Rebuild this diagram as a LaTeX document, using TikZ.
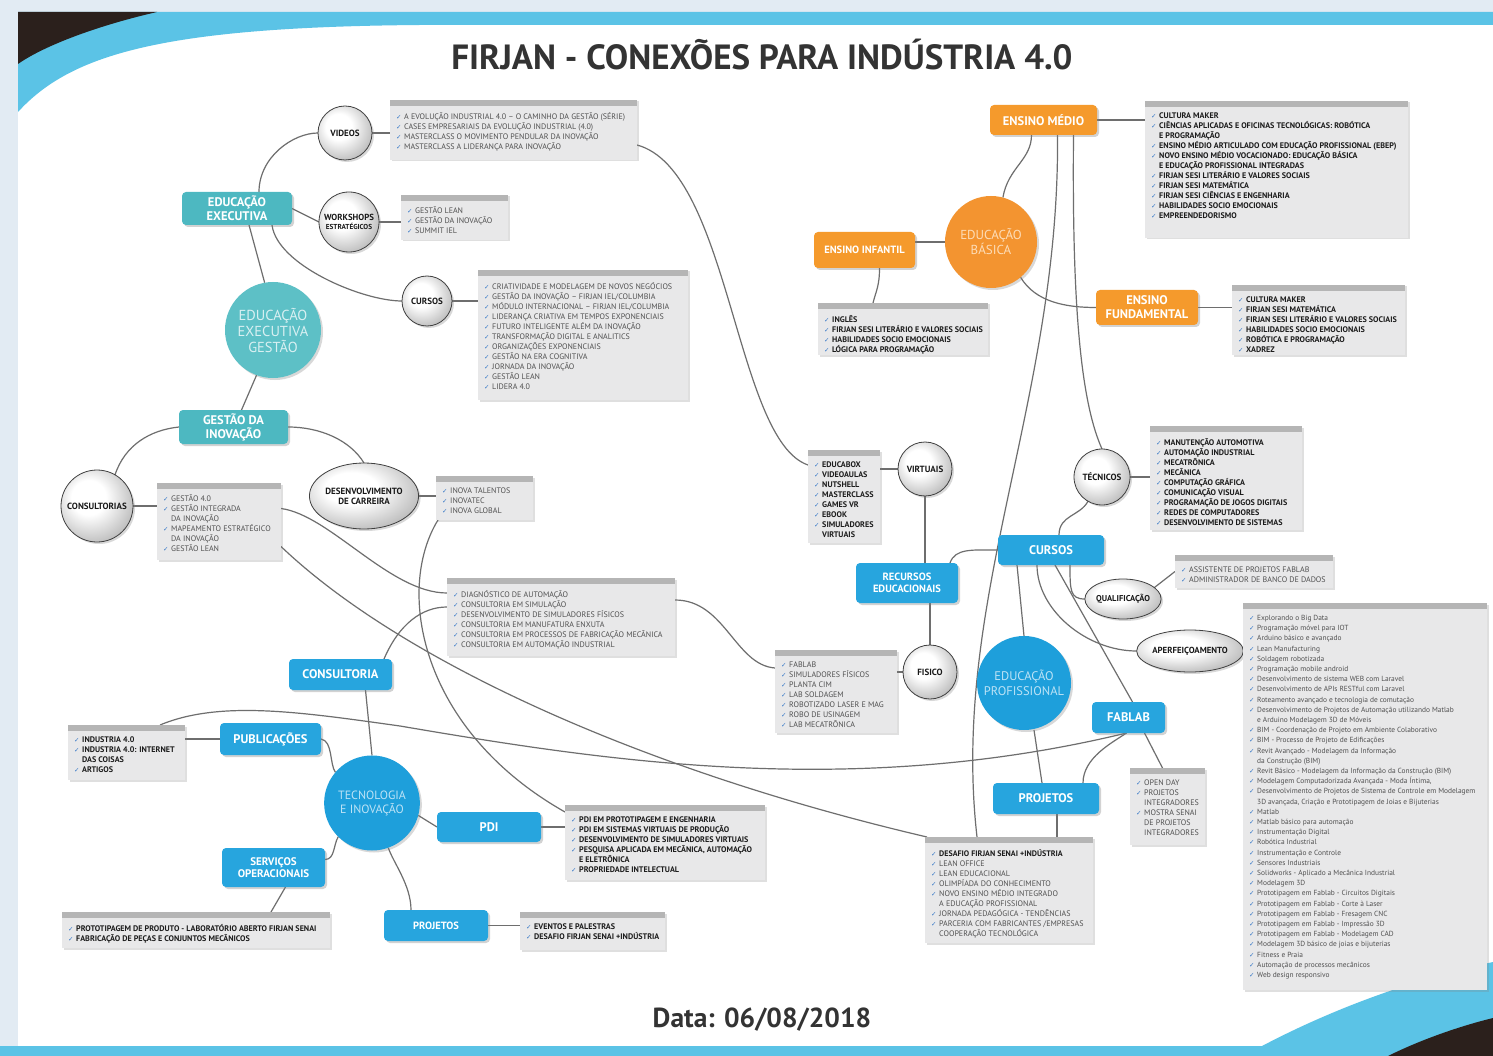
\documentclass[tikz,border=0pt]{standalone}
\usepackage{fontspec}
\setmainfont{PT Sans}
\newfontfamily\symf{DejaVu Sans}
\usetikzlibrary{shapes.geometric,shadows,calc}
\pgfdeclarelayer{bgzero}
\pgfdeclarelayer{lines}
\pgfsetlayers{bgzero,lines,main}
\definecolor{tealbox}{HTML}{4DB8C1}
\definecolor{tealcirc}{HTML}{5DC0C6}
\definecolor{tealtxt}{HTML}{D9F0F2}
\definecolor{orbox}{HTML}{F59A2C}
\definecolor{orcirc}{HTML}{F39430}
\definecolor{ortxt}{HTML}{FDDDB8}
\definecolor{blbox}{HTML}{27A5DE}
\definecolor{blcirc}{HTML}{1E9FDB}
\definecolor{bltxt}{HTML}{BDE3F6}
\definecolor{linec}{HTML}{6E6E6E}
\definecolor{listfill}{HTML}{E8E8E9}
\definecolor{barc}{HTML}{B5B5B5}
\definecolor{chk}{HTML}{3B7BC8}
\definecolor{txtL}{HTML}{505050}
\definecolor{txtB}{HTML}{1C1C1C}
\definecolor{titlec}{HTML}{333333}
\definecolor{swoosh}{HTML}{5BC3E6}
\definecolor{darkbr}{HTML}{2B201C}
\definecolor{marginc}{HTML}{E2EBF3}
\pgfdeclareradialshading{sphereshade}{\pgfpoint{-7bp}{7bp}}{color(0bp)=(white); color(12bp)=(white); color(30bp)=(black!25); color(48bp)=(black!62); color(70bp)=(black!62)}
\newcommand\ck{\makebox[8pt][l]{\symf\fontsize{6.5}{5}\selectfont\color{chk}✓}}
\newcommand\ct{\hspace*{8pt}}
\newcommand\lbox[7]{%
 \node[listbox, minimum width={#5-#3}, minimum height={#6-#4}] (#1) at ({(#3+#5)/2},{(#4+#6)/2}) {};
 \fill[barc] (#1.north west) rectangle ([yshift=-6pt]#1.north east);
 \node[#2, anchor=north west] (#1t) at ([xshift=6pt,yshift=-12pt]#1.north west) {#7};}
\newcommand\cbox[7]{%
 \node[#2, minimum width={#5-#3}, minimum height={#6-#4}] (#1) at ({(#3+#5)/2},{(#4+#6)/2}) {#7};}
\tikzset{
 conn/.style={draw=linec, line width=1.2pt},
 listbox/.style={rectangle, fill=listfill, inner sep=0pt, outer sep=0pt, drop shadow={shadow xshift=1.5pt, shadow yshift=-1.5pt, opacity=0.25}},
 listL/.style={inner sep=0pt, align=left, text=txtL, font=\fontsize{8}{10}\selectfont},
 listB/.style={inner sep=0pt, align=left, text=txtB, font=\bfseries\fontsize{8.1}{10}\selectfont},
 cb/.style={rectangle, rounded corners=4pt, inner sep=0pt, outer sep=0pt, align=center, text=white, font=\bfseries\fontsize{12.5}{14}\selectfont, drop shadow={shadow xshift=2pt, shadow yshift=-2pt, opacity=0.35}},
 tealb/.style={cb, fill=tealbox},
 orb/.style={cb, fill=orbox},
 blb/.style={cb, fill=blbox},
 sph/.style={circle, inner sep=0pt, outer sep=0pt, draw=black!75, line width=0.8pt, shading=sphereshade, align=center, text=black!90, font=\bfseries\fontsize{9}{10}\selectfont, drop shadow={shadow xshift=2pt, shadow yshift=-2pt, opacity=0.3}},
 sphe/.style={sph, ellipse},
 big/.style={circle, inner sep=0pt, outer sep=0pt, align=center, font=\fontsize{14.5}{16}\selectfont, drop shadow={shadow xshift=2pt, shadow yshift=-2pt, opacity=0.3}},
}
\begin{document}
\begin{tikzpicture}[x=1pt,y=-1pt]
\useasboundingbox (0,0) rectangle (1493,1056);
\begin{pgfonlayer}{bgzero}
\fill[marginc] (0,0) rectangle (1493,1056);
\fill[white] (18,12) rectangle (1493,1046);
\fill[swoosh] (18,12) -- (1493,12) -- (1493,25) -- (420,25) .. controls (160,27) and (70,55) .. (18,112) -- cycle;
\fill[darkbr] (18,12) -- (157,12) .. controls (100,25) and (45,45) .. (18,64) -- cycle;
\fill[swoosh] (1262,1046) .. controls (1340,1005) and (1420,978) .. (1493,962) -- (1493,1046) -- cycle;
\fill[swoosh] (0,1046) rectangle (1493,1056);
\fill[darkbr] (1388,1056) .. controls (1420,1040) and (1460,1026) .. (1493,1018) -- (1493,1056) -- cycle;
\end{pgfonlayer}

\node[font=\bfseries\fontsize{35}{38}\selectfont, text=titlec] (title) at (762,55) {FIRJAN - CONEXÕES PARA INDÚSTRIA 4.0};
\node[font=\bfseries\fontsize{27.5}{30}\selectfont, text=titlec] (date) at (762,1020) {Data: 06/08/2018};

% ---------- Educacao executiva ----------
\node[big, fill=tealcirc, text=tealtxt, minimum size=96] (egC) at (273,330) {EDUCAÇÃO\\EXECUTIVA\\GESTÃO};
\cbox{eeB}{tealb}{182}{192}{292}{225}{EDUCAÇÃO\\EXECUTIVA}
\cbox{giB}{tealb}{179}{410}{288}{444}{GESTÃO DA\\INOVAÇÃO}
\node[sph, minimum size=54] (vidC) at (345,133) {VIDEOS};
\node[sph, minimum size=60, font=\bfseries\fontsize{8.8}{9}\selectfont] (wsC) at (349,222) {WORKSHOPS\\{\fontsize{7.2}{8}\selectfont ESTRATÉGICOS}};
\node[sph, minimum size=50] (cuC) at (427,301) {CURSOS};
\node[sph, minimum size=72] (csC) at (97,506) {CONSULTORIAS};
\node[sphe, minimum width=92, minimum height=66] (dcC) at (364,496) {DESENVOLVIMENTO\\DE CARREIRA};

\lbox{vidL}{listL}{390}{100}{637}{160}{\ck A EVOLUÇÃO INDUSTRIAL 4.0 – O CAMINHO DA GESTÃO (SÉRIE)\\\ck CASES EMPRESARIAIS DA EVOLUÇÃO INDUSTRIAL (4.0)\\\ck MASTERCLASS O MOVIMENTO PENDULAR DA INOVAÇÃO\\\ck MASTERCLASS A LIDERANÇA PARA INOVAÇÃO}
\lbox{wsL}{listL}{401}{195}{508}{240}{\ck GESTÃO LEAN\\\ck GESTÃO DA INOVAÇÃO\\\ck SUMMIT IEL}
\lbox{curL}{listL}{478}{270}{688}{400}{\ck CRIATIVIDADE E MODELAGEM DE NOVOS NEGÓCIOS\\\ck GESTÃO DA INOVAÇÃO – FIRJAN IEL/COLUMBIA\\\ck MÓDULO INTERNACIONAL – FIRJAN IEL/COLUMBIA\\\ck LIDERANÇA CRIATIVA EM TEMPOS EXPONENCIAIS\\\ck FUTURO INTELIGENTE ALÉM DA INOVAÇÃO\\\ck TRANSFORMAÇÃO DIGITAL E ANALITICS\\\ck ORGANIZAÇÕES EXPONENCIAIS\\\ck GESTÃO NA ERA COGNITIVA\\\ck JORNADA DA INOVAÇÃO\\\ck GESTÃO LEAN\\\ck LIDERA 4.0}
\lbox{consL}{listL}{157}{483}{281}{560}{\ck GESTÃO 4.0\\\ck GESTÃO INTEGRADA\\\ct DA INOVAÇÃO\\\ck MAPEAMENTO ESTRATÉGICO\\\ct DA INOVAÇÃO\\\ck GESTÃO LEAN}
\lbox{dcL}{listL}{436}{476}{533}{520}{\ck INOVA TALENTOS\\\ck INOVATEC\\\ck INOVA GLOBAL}

% ---------- Educacao basica ----------
\node[big, fill=orcirc, text=ortxt, minimum size=92, font=\fontsize{13}{15}\selectfont] (ebC) at (991,242) {EDUCAÇÃO\\BÁSICA};
\cbox{emB}{orb}{990}{105}{1097}{135}{ENSINO MÉDIO}
\cbox{eiB}{orb, font=\bfseries\fontsize{10.5}{12}\selectfont}{814}{232}{915}{268}{ENSINO INFANTIL}
\cbox{efB}{orb}{1096}{290}{1198}{325}{ENSINO\\FUNDAMENTAL}
\lbox{emL}{listB}{1145}{101}{1408}{238}{\ck CULTURA MAKER\\\ck CIÊNCIAS APLICADAS E OFICINAS TECNOLÓGICAS: ROBÓTICA\\\ct E PROGRAMAÇÃO\\\ck ENSINO MÉDIO ARTICULADO COM EDUCAÇÃO PROFISSIONAL (EBEP)\\\ck NOVO ENSINO MÉDIO VOCACIONADO: EDUCAÇÃO BÁSICA\\\ct E EDUCAÇÃO PROFISSIONAL INTEGRADAS\\\ck FIRJAN SESI LITERÁRIO E VALORES SOCIAIS\\\ck FIRJAN SESI MATEMÁTICA\\\ck FIRJAN SESI CIÊNCIAS E ENGENHARIA\\\ck HABILIDADES SOCIO EMOCIONAIS\\\ck EMPREENDEDORISMO}
\lbox{eiL}{listB}{818}{303}{988}{355}{\ck INGLÊS\\\ck FIRJAN SESI LITERÁRIO E VALORES SOCIAIS\\\ck HABILIDADES SOCIO EMOCIONAIS\\\ck LÓGICA PARA PROGRAMAÇÃO}
\lbox{efL}{listB}{1232}{285}{1405}{355}{\ck CULTURA MAKER\\\ck FIRJAN SESI MATEMÁTICA\\\ck FIRJAN SESI LITERÁRIO E VALORES SOCIAIS\\\ck HABILIDADES SOCIO EMOCIONAIS\\\ck ROBÓTICA E PROGRAMAÇÃO\\\ck XADREZ}

% ---------- Educacao profissional ----------
\node[big, fill=blcirc, text=bltxt, minimum size=94, font=\fontsize{12.5}{14.5}\selectfont] (epC) at (1024,683) {EDUCAÇÃO\\PROFISSIONAL};
\cbox{cuB}{blb}{998}{535}{1104}{565}{CURSOS}
\cbox{reB}{blb, font=\bfseries\fontsize{10.5}{12}\selectfont}{856}{563}{958}{603}{RECURSOS\\EDUCACIONAIS}
\cbox{fbB}{blb}{1092}{702}{1165}{733}{FABLAB}
\cbox{pjB}{blb}{993}{783}{1099}{814}{PROJETOS}
\node[sph, minimum size=54] (viC) at (925,469) {VIRTUAIS};
\node[sph, minimum size=54] (fiC) at (930,672) {FISICO};
\node[sph, minimum size=56] (tcC) at (1102,477) {TÉCNICOS};
\node[sphe, minimum width=70, minimum height=40, font=\bfseries\fontsize{8.5}{9}\selectfont] (quC) at (1123,599) {QUALIFICAÇÃO};
\node[sphe, minimum width=92, minimum height=42, font=\bfseries\fontsize{8.8}{9}\selectfont] (apC) at (1190,651) {APERFEIÇOAMENTO};
\lbox{viL}{listB}{808}{450}{880}{543}{\ck EDUCABOX\\\ck VIDEOAULAS\\\ck NUTSHELL\\\ck MASTERCLASS\\\ck GAMES VR\\\ck EBOOK\\\ck SIMULADORES\\\ct VIRTUAIS}
\lbox{fiL}{listL}{775}{650}{897}{733}{\ck FABLAB\\\ck SIMULADORES FÍSICOS\\\ck PLANTA CIM\\\ck LAB SOLDAGEM\\\ck ROBOTIZADO LASER E MAG\\\ck ROBO DE USINAGEM\\\ck LAB MECATRÔNICA}
\lbox{tcL}{listB}{1150}{426}{1302}{530}{\ck MANUTENÇÃO AUTOMOTIVA\\\ck AUTOMAÇÃO INDUSTRIAL\\\ck MECATRÔNICA\\\ck MECÂNICA\\\ck COMPUTAÇÃO GRÁFICA\\\ck COMUNICAÇÃO VISUAL\\\ck PROGRAMAÇÃO DE JOGOS DIGITAIS\\\ck REDES DE COMPUTADORES\\\ck DESENVOLVIMENTO DE SISTEMAS}
\lbox{quL}{listL}{1175}{555}{1333}{588}{\ck ASSISTENTE DE PROJETOS FABLAB\\\ck ADMINISTRADOR DE BANCO DE DADOS}
\lbox{apL}{listL, font=\fontsize{7.4}{10.2}\selectfont}{1243}{603}{1487}{990}{\ck Explorando o Big Data\\\ck Programação móvel para IOT\\\ck Arduino básico e avançado\\\ck Lean Manufacturing\\\ck Soldagem robotizada\\\ck Programação mobile android\\\ck Desenvolvimento de sistema WEB com Laravel\\\ck Desenvolvimento de APIs RESTful com Laravel\\\ck Roteamento avançado e tecnologia de comutação\\\ck Desenvolvimento de Projetos de Automação utilizando Matlab\\\ct e Arduino Modelagem 3D de Móveis\\\ck BIM - Coordenação de Projeto em Ambiente Colaborativo\\\ck BIM - Processo de Projeto de Edificações\\\ck Revit Avançado - Modelagem da Informação\\\ct da Construção (BIM)\\\ck Revit Básico - Modelagem da Informação da Construção (BIM)\\\ck Modelagem Computadorizada Avançada - Moda Íntima,\\\ck Desenvolvimento de Projetos de Sistema de Controle em Modelagem\\\ct 3D avançada, Criação e Prototipagem de Joias e Bijuterias\\\ck Matlab\\\ck Matlab básico para automação\\\ck Instrumentação Digital\\\ck Robótica Industrial\\\ck Instrumentação e Controle\\\ck Sensores Industriais\\\ck Solidworks - Aplicado a Mecânica Industrial\\\ck Modelagem 3D\\\ck Prototipagem em Fablab - Circuitos Digitais\\\ck Prototipagem em Fablab - Corte à Laser\\\ck Prototipagem em Fablab - Fresagem CNC\\\ck Prototipagem em Fablab - Impressão 3D\\\ck Prototipagem em Fablab - Modelagem CAD\\\ck Modelagem 3D básico de joias e bijuterias\\\ck Fitness e Praia\\\ck Automação de processos mecânicos\\\ck Web design responsivo}
\lbox{fbL}{listL}{1130}{768}{1205}{845}{\ck OPEN DAY\\\ck PROJETOS\\\ct INTEGRADORES\\\ck MOSTRA SENAI\\\ct DE PROJETOS\\\ct INTEGRADORES}
\lbox{deL}{listL}{925}{837}{1093}{943}{\ck{\bfseries\color{txtB}DESAFIO FIRJAN SENAI +INDÚSTRIA}\\\ck LEAN OFFICE\\\ck LEAN EDUCACIONAL\\\ck OLIMPÍADA DO CONHECIMENTO\\\ck NOVO ENSINO MÉDIO INTEGRADO\\\ct A EDUCAÇÃO PROFISSIONAL\\\ck JORNADA PEDAGÓGICA - TENDÊNCIAS\\\ck PARCERIA COM FABRICANTES /EMPRESAS\\\ct COOPERAÇÃO TECNOLÓGICA}

% ---------- Tecnologia e inovacao ----------
\node[big, ellipse, fill=blcirc, text=bltxt, minimum width=91, minimum height=95, font=\fontsize{12}{14}\selectfont] (tiC) at (372,803) {TECNOLOGIA\\E INOVAÇÃO};
\cbox{coB}{blb}{289}{659}{392}{690}{CONSULTORIA}
\cbox{puB}{blb}{220}{723}{321}{755}{PUBLICAÇÕES}
\cbox{pdB}{blb}{437}{812}{541}{842}{PDI}
\cbox{soB}{blb, font=\bfseries\fontsize{11}{12.5}\selectfont}{222}{848}{325}{887}{SERVIÇOS\\OPERACIONAIS}
\cbox{tpB}{blb, font=\bfseries\fontsize{10.5}{12}\selectfont}{384}{910}{488}{941}{PROJETOS}
\lbox{coL}{listL}{447}{578}{675}{656}{\ck DIAGNÓSTICO DE AUTOMAÇÃO\\\ck CONSULTORIA EM SIMULAÇÃO\\\ck DESENVOLVIMENTO DE SIMULADORES FÍSICOS\\\ck CONSULTORIA EM MANUFATURA ENXUTA\\\ck CONSULTORIA EM PROCESSOS DE FABRICAÇÃO MECÂNICA\\\ck CONSULTORIA EM AUTOMAÇÃO INDUSTRIAL}
\lbox{puL}{listB}{68}{725}{185}{780}{\ck INDUSTRIA 4.0\\\ck INDUSTRIA 4.0: INTERNET\\\ct DAS COISAS\\\ck ARTIGOS}
\lbox{pdL}{listB}{565}{805}{765}{880}{\ck PDI EM PROTOTIPAGEM E ENGENHARIA\\\ck PDI EM SISTEMAS VIRTUAIS DE PRODUÇÃO\\\ck DESENVOLVIMENTO DE SIMULADORES VIRTUAIS\\\ck PESQUISA APLICADA EM MECÂNICA, AUTOMAÇÃO\\\ct E ELETRÔNICA\\\ck PROPRIEDADE INTELECTUAL}
\lbox{soL}{listB}{62}{912}{330}{948}{\ck PROTOTIPAGEM DE PRODUTO - LABORATÓRIO ABERTO FIRJAN SENAI\\\ck FABRICAÇÃO DE PEÇAS E CONJUNTOS MECÂNICOS}
\lbox{prL}{listB}{520}{912}{665}{950}{\ck EVENTOS E PALESTRAS\\\ck DESAFIO FIRJAN SENAI +INDÚSTRIA}

% ---------- connectors ----------
\begin{pgfonlayer}{lines}
% executive education
\draw[conn] (egC.100) -- ([xshift=12pt]eeB.south);
\draw[conn] (egC.250) -- ([xshift=8pt]giB.north);
\draw[conn] ([xshift=22pt]eeB.north) .. controls +(0,-35) and +(-25,0) .. (vidC.west);
\draw[conn] (eeB.east) -- (wsC.west);
\draw[conn] ([xshift=35pt]eeB.south) .. controls +(5,40) and +(-40,0) .. (cuC.west);
\draw[conn] (vidC.east) -- (vidC.east -| vidL.west);
\draw[conn] (wsC.east) -- (wsC.east -| wsL.west);
\draw[conn] (cuC.east) -- (cuC.east -| curL.west);
\draw[conn] (giB.west) .. controls (150,430) and (125,445) .. (csC.60);
\draw[conn] (giB.east) .. controls (320,427) and (350,440) .. (dcC.north);
\draw[conn] (csC.east) -- (csC.east -| consL.west);
\draw[conn] (dcC.east) -- (dcC.east -| dcL.west);
% basic education
\draw[conn] (ebC.75) .. controls +(5,-30) and +(0,25) .. ([xshift=-12pt]emB.south);
\draw[conn] (ebC.west) -- (ebC.west -| eiB.east);
\draw[conn] (ebC.-50) .. controls +(15,25) and +(-30,0) .. (efB.west);
\draw[conn] (emB.east) -- (emB.east -| emL.west);
\draw[conn] ([xshift=15pt]eiB.south) .. controls +(0,18) and +(3,-12) .. ([xshift=-30pt]eiL.north);
\draw[conn] (efB.east) -- (efB.east -| efL.west);
\draw[conn] ([xshift=14pt]emB.south) .. controls (1060,400) and (950,600) .. ([xshift=-32pt]deL.north);
\draw[conn] ([xshift=30pt]emB.south) .. controls (1072,300) and (1080,400) .. (tcC.north);
% professional education
\draw[conn] (viC.west) -- (viC.west -| viL.east);
\draw[conn] (viC.south) -- (viC.south |- reB.north);
\draw[conn] (fiC.north |- reB.south) -- (fiC.north);
\draw[conn] (fiC.west) -- (fiC.west -| fiL.east);
\draw[conn] ([xshift=-8pt]reB.north east) .. controls +(5,-15) and +(-25,0) .. (cuB.west);
\draw[conn] ([xshift=8pt]cuB.north) .. controls +(0,-20) and +(-8,15) .. (tcC.240);
\draw[conn] (tcC.east) -- (tcC.east -| tcL.west);
\draw[conn] ([xshift=-34pt]cuB.south) -- (epC.north);
\draw[conn] ([xshift=-14pt]cuB.south) .. controls +(0,45) and +(-50,0) .. (apC.west);
\draw[conn] ([xshift=4pt]cuB.south) -- ([xshift=4pt]fbB.north);
\draw[conn] ([xshift=19pt]cuB.south) .. controls +(0,25) and +(-15,0) .. (quC.west);
\draw[conn] (quC.20) -- (quL.west);
\draw[conn] (apC.east) -- (apC.east -| apL.west);
\draw[conn] ([xshift=10pt]epC.south) -- ([xshift=-4pt]pjB.north);
\draw[conn] ([xshift=-2pt]fbB.south) .. controls +(-15,10) and +(0,-25) .. ([xshift=37pt]pjB.north);
\draw[conn] ([xshift=16pt]fbB.south) -- ([xshift=-5pt]fbL.north);
\draw[conn] ([xshift=11pt]pjB.south) -- ([xshift=11pt]pjB.south |- deL.north);
% technology and innovation
\draw[conn] ([xshift=25pt]coB.south) -- (tiC.north);
\draw[conn] (puB.east) .. controls +(12,2) and +(-6,-8) .. (tiC.140);
\draw[conn] (puB.west) -- (puB.west -| puL.east);
\draw[conn] (tiC.-15) -- (pdB.west);
\draw[conn] (pdB.east) -- (pdB.east -| pdL.west);
\draw[conn] ([yshift=8pt]soB.east) .. controls +(10,0) and +(-5,8) .. (tiC.225);
\draw[conn] ([xshift=12pt]soB.south) -- ([xshift=75pt]soL.north);
\draw[conn] ([xshift=-25pt]tpB.north) .. controls +(0,-25) and +(5,15) .. (tiC.290);
\draw[conn] (tpB.east) -- (tpB.east -| prL.west);
\draw[conn] ([xshift=-8pt]coB.north east) .. controls +(15,-35) and +(-25,0) .. ([yshift=10pt]coL.west);
% long cross links
\draw[conn] ([yshift=-15pt]vidL.east) .. controls (730,170) and (735,440) .. ([yshift=31.5pt]viL.west);
\draw[conn] ([yshift=17pt]coL.east) .. controls (725,600) and (735,665) .. ([yshift=23.5pt]fiL.west);
\draw[conn] ([yshift=13pt]consL.east) .. controls (330,515) and (390,593) .. ([yshift=24pt]coL.west);
\draw[conn] ([yshift=-25pt]consL.east) .. controls (400,660) and (640,770) .. ([xshift=-82pt]deL.north);
\draw[conn] ([xshift=2pt]dcL.south west) .. controls (395,590) and (420,730) .. ([yshift=-7pt]pdL.north west);
\draw[conn] ([xshift=-25pt]puL.north east) .. controls (220,700) and (300,712) .. (400,726) .. controls (600,760) and (850,800) .. ([xshift=-2pt]fbB.south);
\end{pgfonlayer}
\end{tikzpicture}
\end{document}
